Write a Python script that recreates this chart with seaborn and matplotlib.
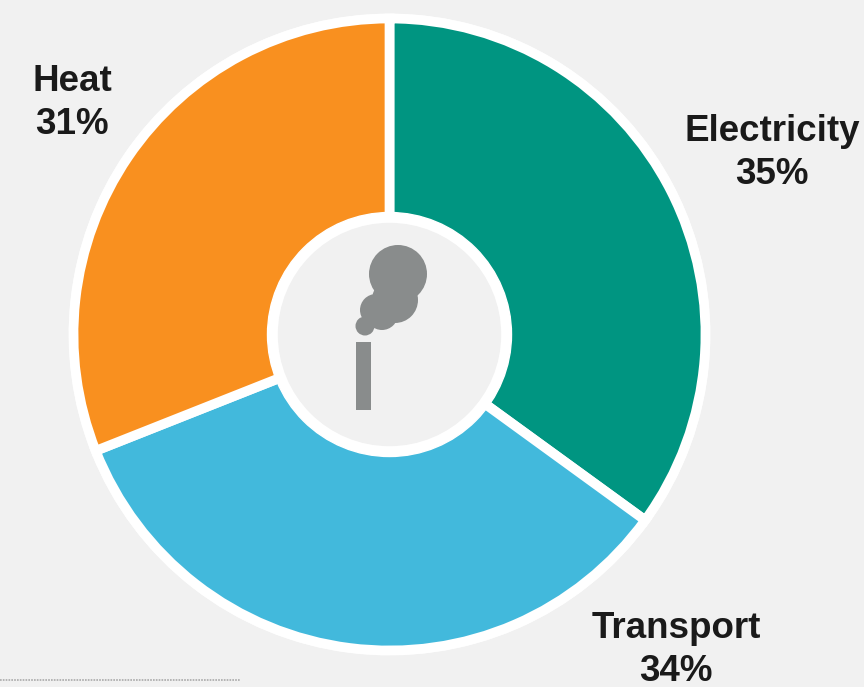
import matplotlib
matplotlib.use('Agg')
import matplotlib.pyplot as plt
from matplotlib.patches import Circle, Rectangle
import seaborn as sns

# data
labels = ['Electricity', 'Transport', 'Heat']
shares = [35, 34, 31]
colors = ['#009581', '#42b9dc', '#f9901f']

sns.set_theme(style='white')
plt.rcParams['font.family'] = ['Liberation Sans', 'DejaVu Sans']

bg = '#f1f1f1'
smoke = '#898c8c'

fig = plt.figure(figsize=(8.64, 6.87), dpi=100, facecolor=bg)
ax = fig.add_axes([0, 0, 1, 1])
ax.set_facecolor(bg)

# axes in pixels, same as the picture
cx, cy = 389.5, 334.5

ax.add_patch(Circle((cx, cy), 320, color='white', zorder=0))
# y axis is flipped below, so -90 + counterclock ends up clockwise from the top
wedges, _ = ax.pie(shares, colors=colors, startangle=-90, counterclock=True,
                   center=(cx, cy), radius=316, frame=True,
                   wedgeprops={'edgecolor': 'white', 'linewidth': 7})

ax.set_xlim(0, 864)
ax.set_ylim(687, 0)
ax.set_aspect('equal')
ax.axis('off')

# hole in the middle
ax.add_patch(Circle((cx, cy), 122, color='white', zorder=3))
ax.add_patch(Circle((cx, cy), 111, color=bg, zorder=4))

# chimney icon
ax.add_patch(Rectangle((356, 342), 15, 68, color=smoke, lw=0, zorder=5))
for x, y, r in [(398, 274, 29), (395, 300, 23), (376, 310, 16), (388, 308, 16),
                (382, 314, 16), (365, 326, 9.5)]:
    ax.add_patch(Circle((x, y), r, color=smoke, lw=0, zorder=5))

# labels
label_pos = {'Electricity': (772, 153), 'Transport': (676, 650), 'Heat': (72, 103)}
for name, val in zip(labels, shares):
    x, y = label_pos[name]
    ax.text(x, y, f'{name}\n{val}%', ha='center', va='center', fontsize=26.5,
            fontweight='bold', color='#1a1a1a', linespacing=1.27, zorder=6)

# dotted rule at the bottom
ax.plot([0, 240], [680, 680], color='#a9a9a9', lw=1.2, ls=(0, (1, 0.7)), zorder=1)

fig.savefig('out.png', dpi=100, facecolor=bg)
